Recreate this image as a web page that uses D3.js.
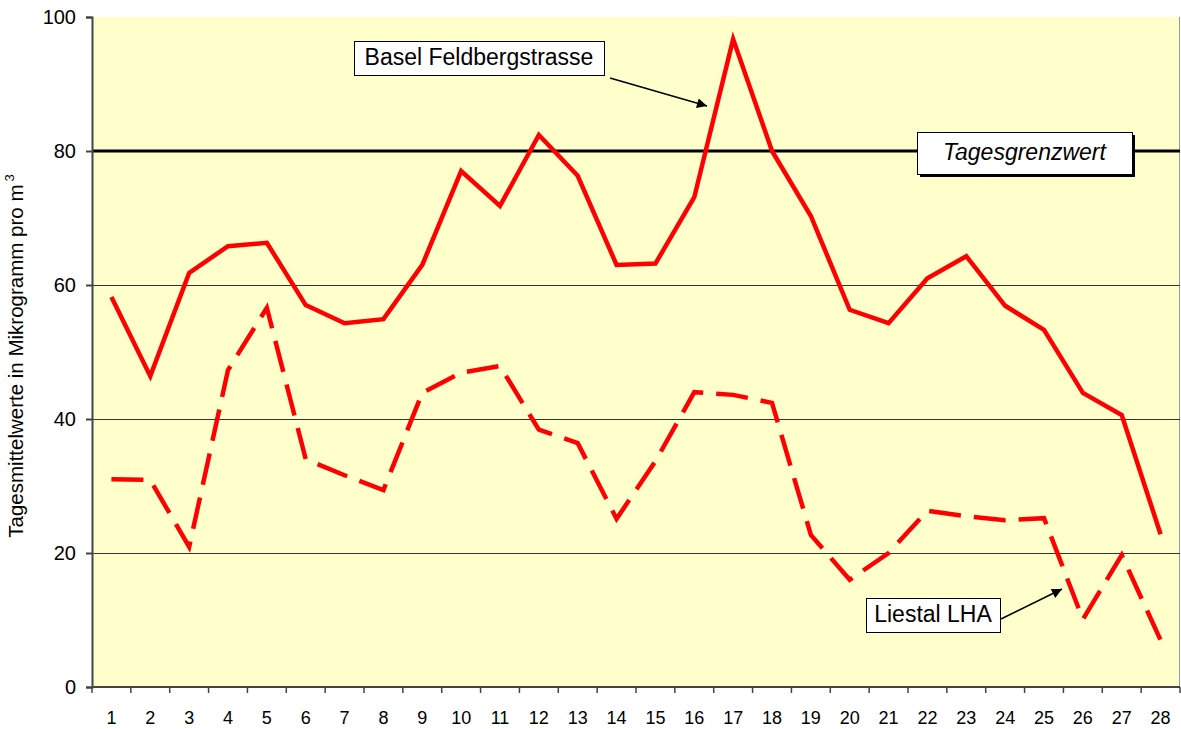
<!DOCTYPE html>
<html>
<head>
<meta charset="utf-8">
<script src="https://cdn.jsdelivr.net/npm/d3@7"></script>
<style>
  body { margin: 0; background: #fff; }
  text { font-family: "Liberation Sans", Arial, sans-serif; }
</style>
</head>
<body>
<div id="chart"></div>
<script>
// Tage 1..28
var days = d3.range(1, 29);
// Basel Feldbergstrasse
var basel = [58.2, 46.4, 61.8, 65.8, 66.3, 57, 54.3, 54.9, 63, 77, 71.8, 82.4, 76.3, 63,
             63.2, 73.1, 96.7, 80, 70.3, 56.3, 54.3, 61, 64.3, 56.9, 53.3, 43.9, 40.6, 22.8];
// Liestal LHA
var liestal = [31, 30.9, 20.9, 47.3, 56.6, 34, 31.6, 29.4, 43.9, 46.9, 47.9, 38.4, 36.4, 25.1,
               33.7, 44, 43.6, 42.4, 22.7, 16, 20, 26.3, 25.5, 24.9, 25.2, 10.1, 19.7, 7];
var yTicks = [0, 20, 40, 60, 80, 100];
var grenzwert = 80;

var width = 1181, height = 729;
var margin = {top: 17, right: 1, bottom: 42, left: 92};

var svg = d3.select("#chart").append("svg")
    .attr("width", width).attr("height", height);

var defs = svg.append("defs");
defs.append("marker").attr("id", "arrow")
    .attr("viewBox", "0 0 10 10").attr("refX", 10).attr("refY", 5)
    .attr("markerWidth", 12).attr("markerHeight", 10).attr("markerUnits", "userSpaceOnUse")
    .attr("orient", "auto")
  .append("path").attr("d", "M0,0L10,5L0,10z").attr("fill", "#000");

var x = d3.scaleBand().domain(days).range([margin.left, width - margin.right]);
var y = d3.scaleLinear().domain([0, 100]).range([height - margin.bottom, margin.top]);

// plot background
svg.append("rect")
    .attr("x", margin.left).attr("y", margin.top)
    .attr("width", width - margin.right - margin.left)
    .attr("height", y(0) - margin.top)
    .attr("fill", "#ffffcc");
svg.append("line")
    .attr("x1", width - margin.right - 0.5).attr("x2", width - margin.right - 0.5)
    .attr("y1", margin.top).attr("y2", y(0))
    .attr("stroke", "#999").attr("stroke-width", 1);

// gridlines
svg.append("g").selectAll("line")
    .data(yTicks.filter(d => d > 0 && d < 100))
    .enter().append("line")
    .attr("x1", margin.left).attr("x2", width - margin.right)
    .attr("y1", d => Math.round(y(d)) + 0.5).attr("y2", d => Math.round(y(d)) + 0.5)
    .attr("stroke", "#333").attr("stroke-width", 1);

// Grenzwert line
svg.append("line")
    .attr("x1", margin.left).attr("x2", width - margin.right)
    .attr("y1", y(grenzwert)).attr("y2", y(grenzwert))
    .attr("stroke", "#000").attr("stroke-width", 3);

// y axis
var yAxis = svg.append("g")
    .attr("transform", "translate(" + margin.left + ",0)")
    .call(d3.axisLeft(y).tickValues(yTicks).tickSize(6).tickPadding(10));
yAxis.selectAll("text").attr("font-size", 20).attr("fill", "#000")
    .style("font-family", "'Liberation Sans', Arial, sans-serif");
yAxis.selectAll("line, path").attr("stroke", "#444").attr("stroke-width", 2);

// x axis: ticks between categories
var xg = svg.append("g").attr("transform", "translate(0," + y(0) + ")");
xg.append("line").attr("x1", margin.left).attr("x2", width - margin.right)
    .attr("stroke", "#444").attr("stroke-width", 2);
xg.selectAll(".tk").data(days.concat([29]))
    .enter().append("line")
    .attr("x1", d => d <= 28 ? x(d) : width - margin.right)
    .attr("x2", d => d <= 28 ? x(d) : width - margin.right)
    .attr("y1", 0).attr("y2", 6)
    .attr("stroke", "#444").attr("stroke-width", 1.5);
xg.selectAll(".lb").data(days)
    .enter().append("text")
    .attr("x", d => x(d) + x.bandwidth() / 2)
    .attr("y", 37)
    .attr("text-anchor", "middle")
    .attr("font-size", 18)
    .text(d => d);

// y label
var ylab = svg.append("text")
    .attr("transform", "translate(23,356) rotate(-90)")
    .attr("text-anchor", "middle")
    .attr("font-size", 20.5);
ylab.append("tspan").text("Tagesmittelwerte in Mikrogramm pro m");
ylab.append("tspan").attr("dx", 3).attr("dy", -9).attr("font-size", 13).text("3");

// lines
var line = d3.line()
    .x((d, i) => x(days[i]) + x.bandwidth() / 2)
    .y(d => y(d));

svg.append("path").datum(liestal)
    .attr("d", line).attr("fill", "none")
    .attr("stroke", "#ff0000").attr("stroke-width", 4.5)
    .attr("stroke-dasharray", "32,13");

svg.append("path").datum(basel)
    .attr("d", line).attr("fill", "none")
    .attr("stroke", "#ff0000").attr("stroke-width", 4.5)
    .attr("stroke-linejoin", "miter");

// annotations
function labelBox(x0, y0, w, h, base, txt, italic, shadow) {
  var g = svg.append("g");
  if (shadow) {
    g.append("rect").attr("x", x0 + 3).attr("y", y0 + 3).attr("width", w).attr("height", h)
      .attr("fill", "#000");
  }
  g.append("rect").attr("x", x0 + 0.5).attr("y", y0 + 0.5).attr("width", w).attr("height", h)
    .attr("fill", "#fff").attr("stroke", "#000").attr("stroke-width", 1);
  g.append("text").attr("x", x0 + w / 2).attr("y", y0 + base)
    .attr("text-anchor", "middle").attr("font-size", 23)
    .attr("font-style", italic ? "italic" : "normal")
    .text(txt);
}

svg.append("line").attr("x1", 610).attr("y1", 78).attr("x2", 707).attr("y2", 106)
  .attr("stroke", "#000").attr("stroke-width", 1.5).attr("marker-end", "url(#arrow)");
svg.append("line").attr("x1", 1001).attr("y1", 619).attr("x2", 1062).attr("y2", 589)
  .attr("stroke", "#000").attr("stroke-width", 1.5).attr("marker-end", "url(#arrow)");

labelBox(354, 41, 250, 34, 24, "Basel Feldbergstrasse", false, false);
labelBox(917, 132, 215, 42, 28, "Tagesgrenzwert", true, true);
labelBox(866, 598, 134, 34, 24, "Liestal LHA", false, false);
</script>
</body>
</html>
